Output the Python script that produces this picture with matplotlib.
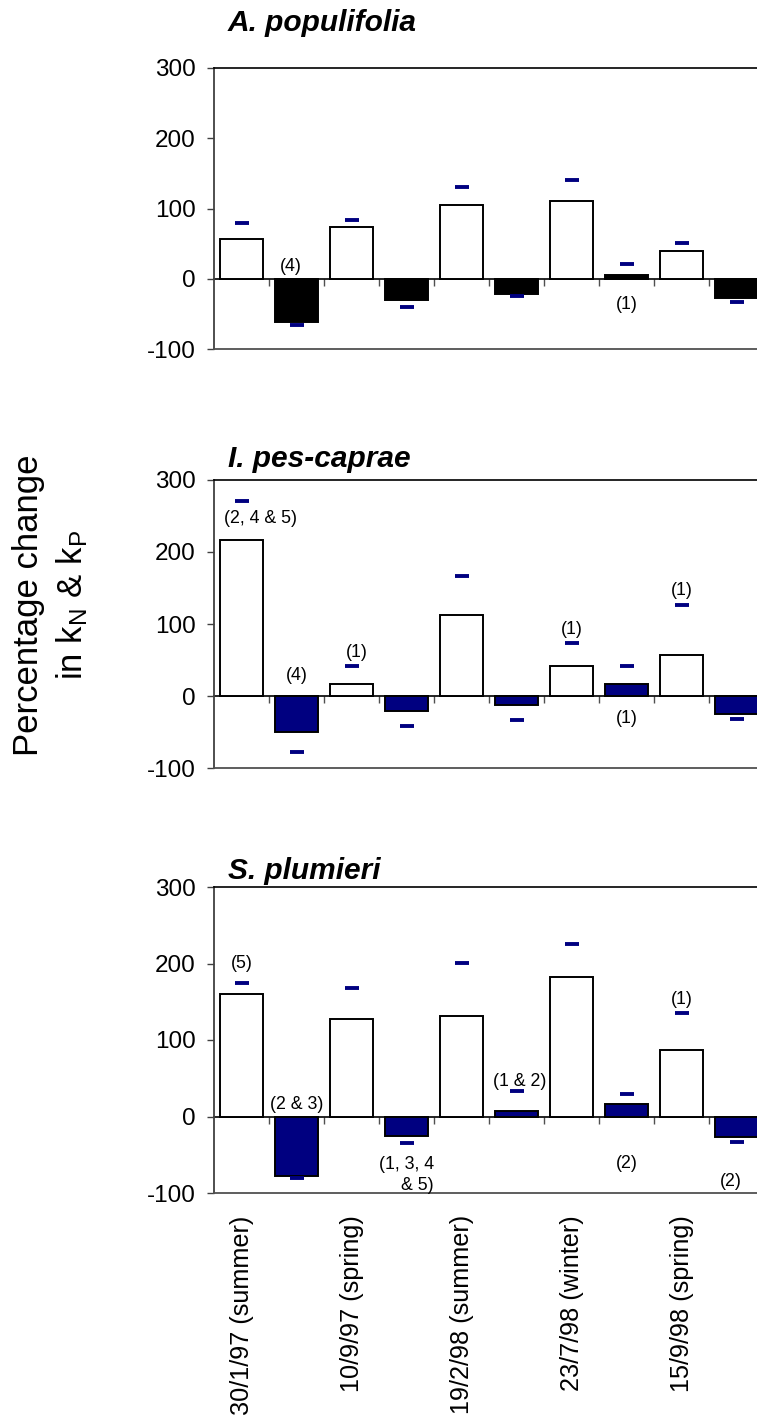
import numpy as np
import matplotlib.pyplot as plt

plt.rcParams['font.family'] = ['Liberation Sans', 'DejaVu Sans']
plt.rcParams['mathtext.fontset'] = 'custom'
plt.rcParams['mathtext.rm'] = 'Liberation Sans'
plt.rcParams['mathtext.it'] = 'Liberation Sans:italic'
plt.rcParams['axes.unicode_minus'] = False

# sampling dates, one per pair of bars
dates = ['30/1/97 (summer)', '10/9/97 (spring)', '19/2/98 (summer)',
         '23/7/98 (winter)', '15/9/98 (spring)']

species = ['A. populifolia', 'I. pes-caprae', 'S. plumieri']

# % change per bar (white / filled alternate) and the dash above/below it
pop_bars = [56, -62, 74, -30, 105, -22, 110, 5, 39, -27]
pop_marks = [80, -66, 83, -40, 130, -24, 140, 21, 51, -33]
ipc_bars = [217, -50, 16, -21, 112, -12, 41, 17, 57, -25]
ipc_marks = [271, -78, 42, -41, 167, -34, 73, 41, 127, -32]
spl_bars = [160, -78, 128, -25, 132, 7, 182, 16, 87, -27]
spl_marks = [174, -81, 168, -35, 201, 33, 226, 29, 135, -33]

# (bar, note, y, x shift)
pop_notes = [(1, '(4)', 18, -0.1), (7, '(1)', -37, 0)]
ipc_notes = [(0, '(2, 4 & 5)', 247, 0.35), (1, '(4)', 29, 0), (2, '(1)', 61, 0.1),
             (6, '(1)', 92, 0), (7, '(1)', -31, 0), (8, '(1)', 146, 0)]
spl_notes = [(0, '(5)', 200, 0), (1, '(2 & 3)', 16, 0), (3, '(1, 3, 4\n& 5)', -77, 0),
             (5, '(1 & 2)', 46, 0.05), (7, '(2)', -61, 0), (8, '(1)', 153, 0),
             (9, '(2)', -85, -0.1)]

bars = [pop_bars, ipc_bars, spl_bars]
marks = [pop_marks, ipc_marks, spl_marks]
notes = [pop_notes, ipc_notes, spl_notes]
fills = ['black', '#000080', '#000080']

W, H = 757, 1418
fig = plt.figure(figsize=(W / 100, H / 100), dpi=100)

# panel boxes in pixels: top edge, bottom edge
boxes = [(68, 349), (480, 768), (887, 1193)]
title_base = [31, 467, 879]
left_px, width_px = 214, 550

for k in range(3):
    top, bot = boxes[k]
    ax = fig.add_axes([left_px / W, 1 - bot / H, width_px / W, (bot - top) / H])
    x = np.arange(len(bars[k]))
    colors = ['white' if i % 2 == 0 else fills[k] for i in x]
    ax.bar(x, bars[k], width=0.79, color=colors, edgecolor='black',
           linewidth=1.4, zorder=2)
    ax.plot(x, marks[k], ls='none', marker='_', ms=9.4, mew=2.8,
            color='#000080', zorder=4)

    for i, txt, yv, dx in notes[k]:
        ax.text(i + dx, yv, txt, ha='center', va='center', fontsize=12.8,
                multialignment='right', linespacing=1.3, zorder=5)

    ax.set_xlim(-0.5, len(x) - 0.5)
    ax.set_ylim(-100, 300)
    ax.set_yticks([-100, 0, 100, 200, 300])
    ax.tick_params(axis='y', labelsize=17.5, length=5, width=1,
                   color='#404040', pad=8)
    ax.set_xticks(x[::2])
    if k == 2:
        ax.set_xticklabels(dates, rotation=90, fontsize=18.2)
    else:
        ax.set_xticklabels([])
    ax.tick_params(axis='x', length=0, pad=16)

    ax.spines['right'].set_visible(False)
    ax.spines['top'].set_color('black')
    ax.spines['top'].set_linewidth(1.2)
    ax.spines['left'].set_color('#404040')
    ax.spines['left'].set_linewidth(1.3)
    ax.spines['bottom'].set_color('#505050')
    ax.spines['bottom'].set_linewidth(1.3)

    # zero line with category dividers
    y0, y1 = ax.get_ylim()
    zero = ax.secondary_xaxis((0 - y0) / (y1 - y0))
    zero.set_xticks(x[:-1] + 0.5)
    zero.tick_params(axis='x', length=5, width=1, color='#505050',
                     labelbottom=False, labeltop=False)
    zero.spines['bottom'].set_color('black')
    zero.spines['bottom'].set_linewidth(1.2)
    zero.spines['top'].set_visible(False)

    fig.text(228 / W, 1 - title_base[k] / H, species[k], fontsize=21.5,
             fontweight='bold', fontstyle='italic', va='baseline', ha='left')

fig.text(51 / W, 1 - 605 / H,
         'Percentage change\nin k$_\\mathregular{N}$ & k$_\\mathregular{P}$',
         rotation=90, ha='center', va='center', multialignment='center',
         fontsize=25, linespacing=1.3)

fig.savefig('out.png', dpi=100)
